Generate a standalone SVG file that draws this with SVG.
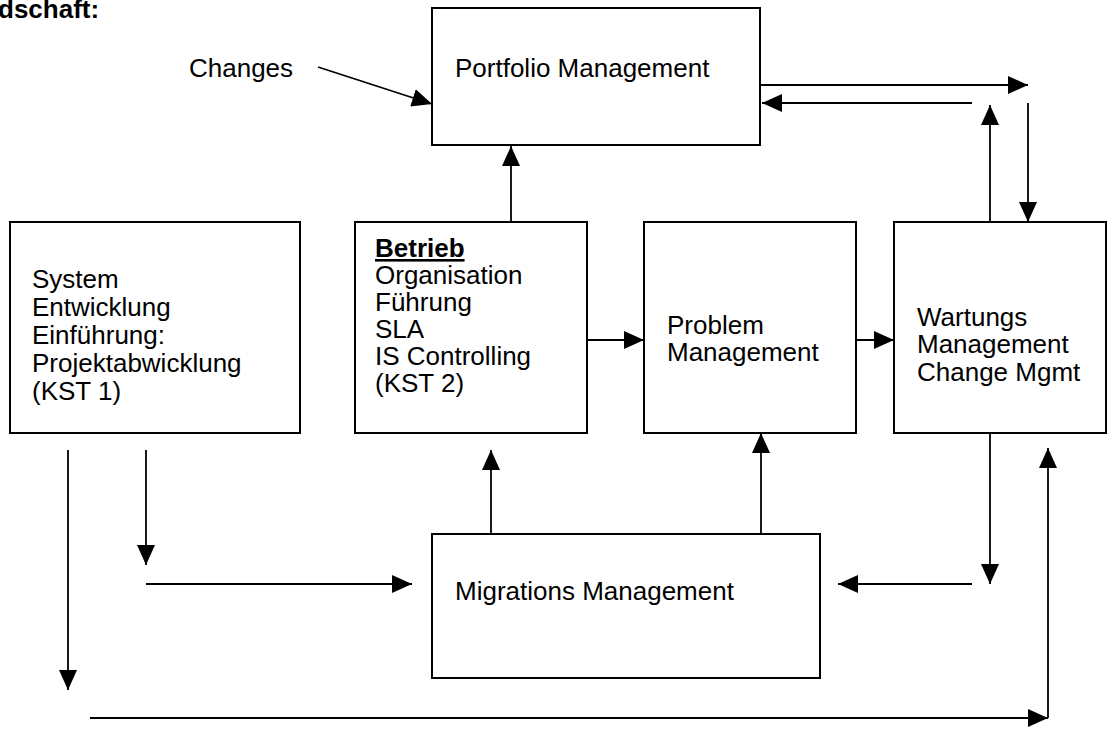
<svg xmlns="http://www.w3.org/2000/svg" width="1109" height="729" viewBox="0 0 1109 729">
<style>
.box{fill:#fff;stroke:#000;stroke-width:2}
.t{font-family:"Liberation Sans",Arial,sans-serif;font-size:26px;fill:#000}
.b{font-weight:bold}
.c line{stroke:#000;stroke-width:1.8;fill:none}
.c .a{marker-end:url(#ah)}
</style>
<defs>
<marker id="ah" markerUnits="userSpaceOnUse" markerWidth="20" markerHeight="18" refX="20" refY="9" orient="auto">
<path d="M0,0 L20,9 L0,18 Z" fill="#000"/>
</marker>
</defs>
<rect width="1109" height="729" fill="#fff"/>
<text class="t b" x="-2" y="18" font-size="24">dschaft:</text>
<text class="t" x="189" y="77">Changes</text>
<g id="portfolio"><rect class="box" x="432" y="8" width="328" height="137"/><text class="t" x="455" y="77">Portfolio Management</text></g>
<g id="system"><rect class="box" x="10" y="222" width="290" height="211"/>
<text class="t" x="32" y="288">System</text><text class="t" x="32" y="316">Entwicklung</text><text class="t" x="32" y="344">Einführung:</text><text class="t" x="32" y="372">Projektabwicklung</text><text class="t" x="32" y="400">(KST 1)</text></g>
<g id="betrieb"><rect class="box" x="355" y="222" width="232" height="211"/>
<text class="t b" x="375" y="257" text-decoration="underline">Betrieb</text><text class="t" x="375" y="284">Organisation</text><text class="t" x="375" y="311">Führung</text><text class="t" x="375" y="338">SLA</text><text class="t" x="375" y="365">IS Controlling</text><text class="t" x="375" y="392">(KST 2)</text></g>
<g id="problem"><rect class="box" x="644" y="222" width="212" height="211"/>
<text class="t" x="667" y="334">Problem</text><text class="t" x="667" y="361">Management</text></g>
<g id="wartung"><rect class="box" x="894" y="222" width="212" height="211"/>
<text class="t" x="917" y="326">Wartungs</text><text class="t" x="917" y="353">Management</text><text class="t" x="917" y="381">Change Mgmt</text></g>
<g id="migration"><rect class="box" x="432" y="534" width="388" height="144"/>
<text class="t" x="455" y="600">Migrations Management</text></g>
<g class="c" id="connectors">
<line class="a" x1="318" y1="67" x2="432" y2="104"/>
<line class="a" x1="760" y1="85" x2="1028" y2="85"/>
<line class="a" x1="972" y1="103" x2="762" y2="103"/>
<line class="a" x1="990" y1="222" x2="990" y2="105"/>
<line class="a" x1="1028" y1="103" x2="1028" y2="222"/>
<line class="a" x1="511" y1="222" x2="511" y2="146"/>
<line class="a" x1="587" y1="340" x2="644" y2="340"/>
<line class="a" x1="856" y1="340" x2="894" y2="340"/>
<line class="a" x1="491" y1="534" x2="491" y2="450"/>
<line class="a" x1="761" y1="534" x2="761" y2="433"/>
<line class="a" x1="146" y1="450" x2="146" y2="565"/>
<line class="a" x1="146" y1="584" x2="412" y2="584"/>
<line class="a" x1="68" y1="450" x2="68" y2="690"/>
<line class="a" x1="90" y1="718" x2="1048" y2="718"/>
<line class="a" x1="990" y1="432" x2="990" y2="584"/>
<line class="a" x1="972" y1="584" x2="838" y2="584"/>
<line class="a" x1="1048" y1="718" x2="1048" y2="448"/>
</g>
</svg>
